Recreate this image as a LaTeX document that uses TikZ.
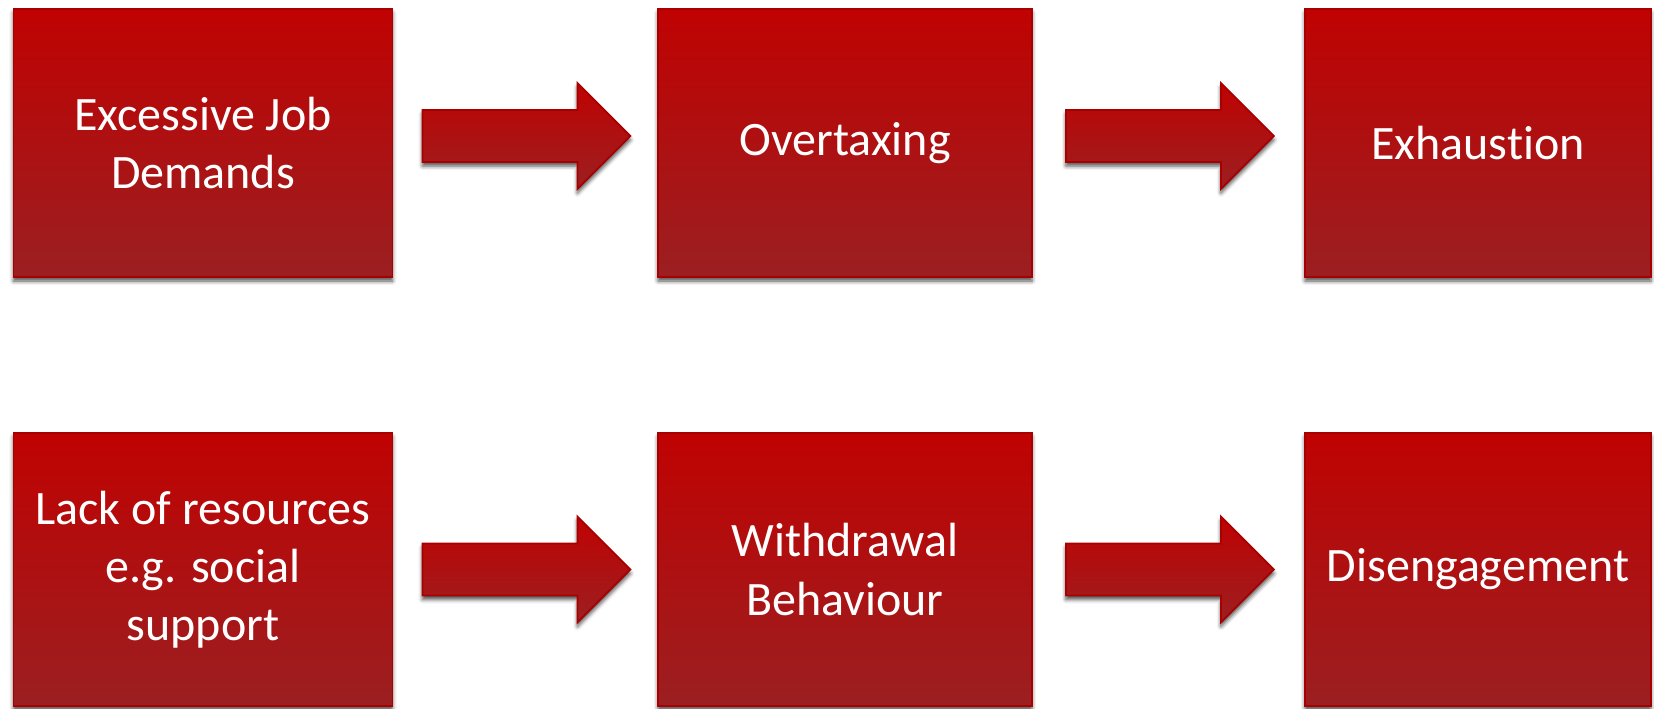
\documentclass[tikz,border=0pt]{standalone}
\usepackage{fontspec}
\setmainfont{Carlito}[Ligatures=NoCommon]
\usetikzlibrary{shadows.blur,calc}
\definecolor{boxtop}{RGB}{192,2,2}
\definecolor{boxbot}{RGB}{155,31,33}
\definecolor{boxedge}{RGB}{168,0,0}
\tikzset{
  redbox/.style={draw=boxedge, line width=1.4pt, top color=boxtop, bottom color=boxbot,
    text=white, align=center, inner sep=0pt,
    font=\fontsize{36}{43.6}\selectfont,
    blur shadow={shadow xshift=0pt, shadow yshift=-3pt, shadow blur radius=3pt, shadow opacity=70}},
  blockarrow/.style={draw=boxedge, line width=1.3pt, top color=boxtop, bottom color=boxbot,
    line join=miter,
    blur shadow={shadow xshift=0pt, shadow yshift=-3pt, shadow blur radius=3pt, shadow opacity=70}}
}
\newcommand\blockarr[1]{\path[blockarrow] (#1) ++(0,-26) -- ++(155,0) -- ++(0,-27) -- ++(53,53) -- ++(-53,53) -- ++(0,-27) -- ++(-155,0) -- cycle;}
\begin{document}
\begin{tikzpicture}[x=0.75pt,y=-0.75pt]
\useasboundingbox (0,0) rectangle (1654,709);
% top row
\node[redbox, minimum width=379*0.75pt, minimum height=268*0.75pt] (a1) at (203,143) {Excessive Job\\Demands};
\node[redbox, minimum width=374*0.75pt, minimum height=268*0.75pt] (a2) at (845,143) {Overtaxing};
\node[redbox, minimum width=346*0.75pt, minimum height=268*0.75pt] (a3) at (1478,143) {Exhaustion};
% bottom row
\node[redbox, minimum width=379*0.75pt, minimum height=273*0.75pt] (b1) at (203,569.5) {Lack of resources\\e.g. social\\support};
\node[redbox, minimum width=374*0.75pt, minimum height=273*0.75pt] (b2) at (845,569.5) {Withdrawal\\Behaviour};
\node[redbox, minimum width=346*0.75pt, minimum height=273*0.75pt] (b3) at (1478,569.5) {Disengagement};
% arrows
\coordinate (s1) at ($(a1.east)+(29,-7)$);
\coordinate (s2) at ($(a2.east)+(33,-7)$);
\coordinate (s3) at ($(b1.east)+(29,0)$);
\coordinate (s4) at ($(b2.east)+(33,0)$);
\blockarr{s1}
\blockarr{s2}
\blockarr{s3}
\blockarr{s4}
\end{tikzpicture}
\end{document}
